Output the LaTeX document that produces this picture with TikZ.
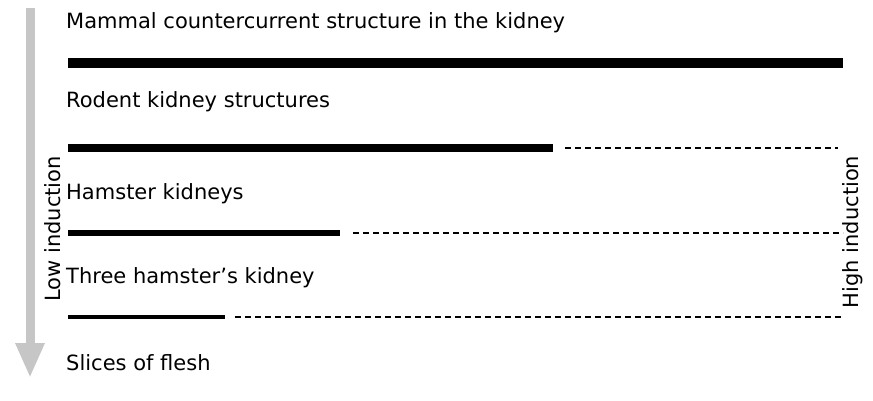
\documentclass[tikz,border=0pt]{standalone}
\usepackage{fontspec}
\setmainfont{DejaVu Sans}
\usetikzlibrary{arrows.meta,positioning}

\begin{document}
\begin{tikzpicture}[
  x=1pt, y=-1pt,
  every node/.style={font=\fontsize{21}{25}\selectfont},
  levellabel/.style={anchor=base west, inner sep=0pt},
  sidelabel/.style={rotate=90, inner sep=0pt},
  solidbar/.style={line width=#1},
  dashbar/.style={line width=1.6pt, dash pattern=on 6pt off 4pt},
]
\useasboundingbox (0,0) rectangle (873,401);

% Level labels
\node[levellabel] (mammal) at (66,29) {Mammal countercurrent structure in the kidney};
\node[levellabel] (rodent) at (66,108) {Rodent kidney structures};
\node[levellabel] (hamster) at (66,200) {Hamster kidneys};
\node[levellabel] (three) at (66,283) {Three hamster's kidney};
\node[levellabel] (slices) at (66,370) {Slices of flesh};

% Side labels
\node[sidelabel] (low) at (53,229) {Low induction};
\node[sidelabel] (high) at (853,232) {High induction};

% Bars
\coordinate (b1s) at (68,63);   \coordinate (b1e) at (843,63);
\coordinate (b2s) at (68,148);  \coordinate (b2m) at (553,148);
\coordinate (d2s) at (565,148); \coordinate (d2e) at (838,148);
\coordinate (b3s) at (68,233);  \coordinate (b3m) at (340,233);
\coordinate (d3s) at (353,233); \coordinate (d3e) at (843,233);
\coordinate (b4s) at (68,317);  \coordinate (b4m) at (225,317);
\coordinate (d4s) at (235,317); \coordinate (d4e) at (843,317);

\draw[solidbar=10pt] (b1s) -- (b1e);
\draw[solidbar=8pt] (b2s) -- (b2m);
\draw[dashbar] (d2s) -- (d2e);
\draw[solidbar=6pt] (b3s) -- (b3m);
\draw[dashbar] (d3s) -- (d3e);
\draw[solidbar=4pt] (b4s) -- (b4m);
\draw[dashbar] (d4s) -- (d4e);

% Induction arrow
\coordinate (arrtop) at (30,8);
\coordinate (arrtip) at (30,378);
\draw[gray!45, line width=9pt, -{Triangle[width=27pt,length=35pt]}] (arrtop) -- (arrtip);

\end{tikzpicture}
\end{document}
